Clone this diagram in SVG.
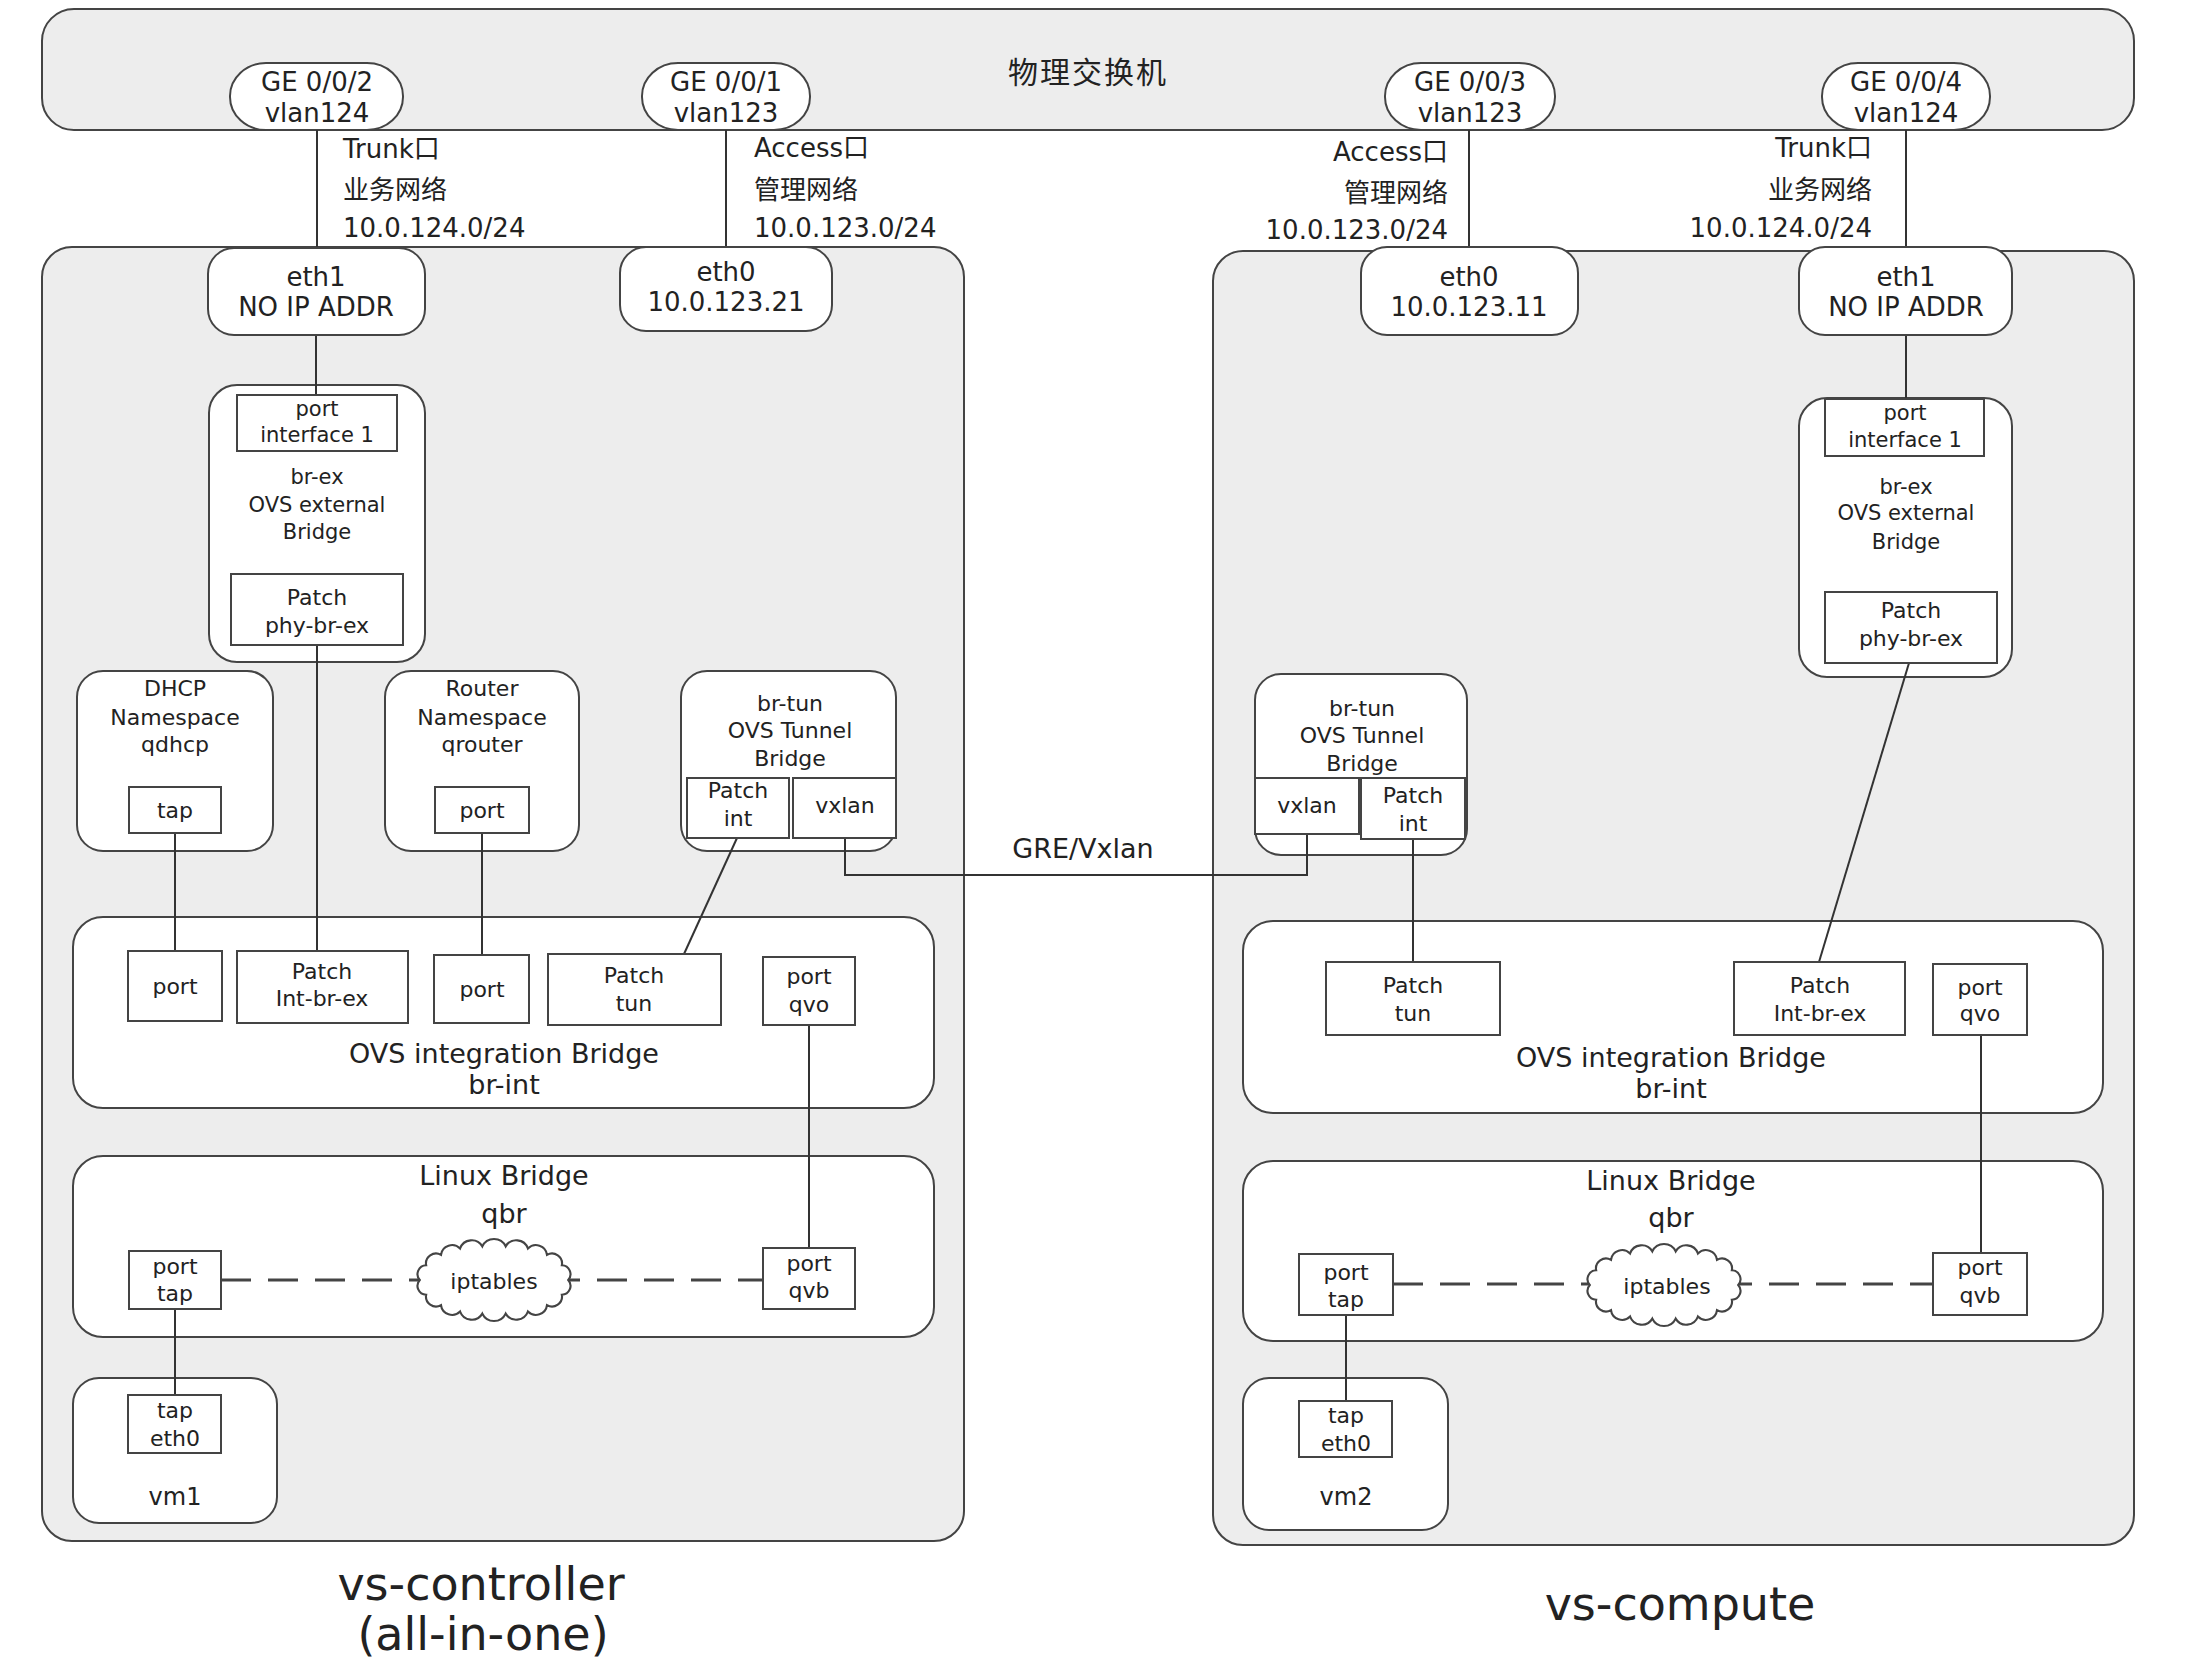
<svg xmlns="http://www.w3.org/2000/svg" width="2190" height="1664" viewBox="0 0 2190 1664">
<style>
  text { font-family: "DejaVu Sans", "Noto Sans CJK SC", sans-serif; fill: #222; }
  .c { text-anchor: middle; dominant-baseline: central; }
  .st { text-anchor: start; dominant-baseline: central; }
  .en { text-anchor: end; dominant-baseline: central; }
  .f21 { font-size: 21px; }
  .f22 { font-size: 22px; }
  .f26 { font-size: 26px; }
  .f27 { font-size: 27px; }
  .big { font-size: 46px; text-anchor: middle; }
  .gray { fill: #ededed; stroke: #444; stroke-width: 2; }
  .box { fill: #fff; stroke: #444; stroke-width: 2; }
  .ln { fill: none; stroke: #333; stroke-width: 2; }
  .dash { fill: none; stroke: #444; stroke-width: 3; stroke-dasharray: 30 17; }
</style>
<defs>
  <path id="cloud" d="M70,0 A8.4,8.4 0 0 1 64,14 A9.5,9.5 0 0 1 50,24 A10.5,10.5 0 0 1 32,30 A11.6,11.6 0 0 1 11,32 A12.1,12.1 0 0 1 -11,32 A11.6,11.6 0 0 1 -32,30 A10.5,10.5 0 0 1 -50,24 A9.5,9.5 0 0 1 -64,14 A8.4,8.4 0 0 1 -70,0 A8.4,8.4 0 0 1 -64,-14 A9.5,9.5 0 0 1 -50,-24 A10.5,10.5 0 0 1 -32,-30 A11.6,11.6 0 0 1 -11,-32 A12.1,12.1 0 0 1 11,-32 A11.6,11.6 0 0 1 32,-30 A10.5,10.5 0 0 1 50,-24 A9.5,9.5 0 0 1 64,-14 A8.4,8.4 0 0 1 70,0 Z"/>
</defs>
<rect x="0" y="0" width="2190" height="1664" fill="#fff"/>

<!-- Physical switch -->
<g id="switch">
  <rect class="gray" x="42" y="9" width="2092" height="121" rx="32" ry="32"/>
  <text class="c" x="1088" y="72" style="font-size:30px;letter-spacing:2px">物理交换机</text>
</g>

<!-- Hosts -->
<g id="host-controller">
  <rect class="gray" x="42" y="247" width="922" height="1294" rx="30" ry="30"/>
  <text class="big" x="481" y="1600">vs-controller</text>
  <text class="big" x="483" y="1650">(all-in-one)</text>
</g>
<g id="host-compute">
  <rect class="gray" x="1213" y="251" width="921" height="1294" rx="30" ry="30"/>
  <text class="big" x="1680" y="1620">vs-compute</text>
</g>

<!-- Switch ports -->
<g id="ge002"><rect class="box" x="230" y="63" width="173" height="67" rx="36" ry="33"/>
  <text class="c f26" x="317" y="82">GE 0/0/2</text><text class="c f26" x="317" y="113">vlan124</text></g>
<g id="ge001"><rect class="box" x="642" y="63" width="168" height="67" rx="36" ry="33"/>
  <text class="c f26" x="726" y="82">GE 0/0/1</text><text class="c f26" x="726" y="113">vlan123</text></g>
<g id="ge003"><rect class="box" x="1385" y="63" width="170" height="67" rx="36" ry="33"/>
  <text class="c f26" x="1470" y="82">GE 0/0/3</text><text class="c f26" x="1470" y="113">vlan123</text></g>
<g id="ge004"><rect class="box" x="1822" y="63" width="168" height="67" rx="36" ry="33"/>
  <text class="c f26" x="1906" y="82">GE 0/0/4</text><text class="c f26" x="1906" y="113">vlan124</text></g>

<!-- Controller containers -->
<g id="ctrl-br-ex"><rect class="box" x="209" y="385" width="216" height="277" rx="28" ry="28"/>
  <text class="c f21" x="317" y="477">br-ex</text><text class="c f21" x="317" y="505">OVS external</text><text class="c f21" x="317" y="532">Bridge</text></g>
<g id="ctrl-dhcp"><rect class="box" x="77" y="671" width="196" height="180" rx="26" ry="26"/>
  <text class="c f22" x="175" y="688">DHCP</text><text class="c f22" x="175" y="717">Namespace</text><text class="c f22" x="175" y="744">qdhcp</text></g>
<g id="ctrl-router"><rect class="box" x="385" y="671" width="194" height="180" rx="26" ry="26"/>
  <text class="c f22" x="482" y="688">Router</text><text class="c f22" x="482" y="717">Namespace</text><text class="c f22" x="482" y="744">qrouter</text></g>
<g id="ctrl-br-tun"><rect class="box" x="681" y="671" width="215" height="180" rx="26" ry="26"/>
  <text class="c f22" x="790" y="703">br-tun</text><text class="c f22" x="790" y="730">OVS Tunnel</text><text class="c f22" x="790" y="758">Bridge</text></g>
<g id="ctrl-br-int"><rect class="box" x="73" y="917" width="861" height="191" rx="30" ry="30"/>
  <text class="c f27" x="504" y="1053">OVS integration Bridge</text><text class="c f27" x="504" y="1084">br-int</text></g>
<g id="ctrl-qbr"><rect class="box" x="73" y="1156" width="861" height="181" rx="30" ry="30"/>
  <text class="c f27" x="504" y="1175">Linux Bridge</text><text class="c f27" x="504" y="1213">qbr</text></g>
<g id="vm1"><rect class="box" x="73" y="1378" width="204" height="145" rx="26" ry="26"/>
  <text class="c" style="font-size:24px" x="175" y="1497">vm1</text></g>

<!-- Compute containers -->
<g id="comp-br-ex"><rect class="box" x="1799" y="398" width="213" height="279" rx="28" ry="28"/>
  <text class="c f21" x="1906" y="487">br-ex</text><text class="c f21" x="1906" y="513">OVS external</text><text class="c f21" x="1906" y="542">Bridge</text></g>
<g id="comp-br-tun"><rect class="box" x="1255" y="674" width="212" height="181" rx="26" ry="26"/>
  <text class="c f22" x="1362" y="708">br-tun</text><text class="c f22" x="1362" y="735">OVS Tunnel</text><text class="c f22" x="1362" y="763">Bridge</text></g>
<g id="comp-br-int"><rect class="box" x="1243" y="921" width="860" height="192" rx="30" ry="30"/>
  <text class="c f27" x="1671" y="1057">OVS integration Bridge</text><text class="c f27" x="1671" y="1088">br-int</text></g>
<g id="comp-qbr"><rect class="box" x="1243" y="1161" width="860" height="180" rx="30" ry="30"/>
  <text class="c f27" x="1671" y="1180">Linux Bridge</text><text class="c f27" x="1671" y="1217">qbr</text></g>
<g id="vm2"><rect class="box" x="1243" y="1378" width="205" height="152" rx="26" ry="26"/>
  <text class="c" style="font-size:24px" x="1346" y="1497">vm2</text></g>

<!-- Connectors -->
<g id="connectors">
  <line class="ln" x1="317" y1="130" x2="317" y2="248"/>
  <line class="ln" x1="726" y1="130" x2="726" y2="247"/>
  <line class="ln" x1="1469" y1="130" x2="1469" y2="247"/>
  <line class="ln" x1="1906" y1="130" x2="1906" y2="247"/>
  <line class="ln" x1="316" y1="335" x2="316" y2="395"/>
  <line class="ln" x1="317" y1="645" x2="317" y2="951"/>
  <line class="ln" x1="175" y1="833" x2="175" y2="951"/>
  <line class="ln" x1="482" y1="833" x2="482" y2="955"/>
  <line class="ln" x1="737" y1="838" x2="684" y2="954"/>
  <line class="ln" x1="809" y1="1025" x2="809" y2="1248"/>
  <line class="ln" x1="175" y1="1309" x2="175" y2="1395"/>
  <line class="dash" x1="221" y1="1280" x2="763" y2="1280"/>
  <path class="ln" d="M845,838 V875 H1307 V834"/>
  <text class="c f27" x="1083" y="848">GRE/Vxlan</text>
  <line class="ln" x1="1906" y1="335" x2="1906" y2="399"/>
  <line class="ln" x1="1413" y1="839" x2="1413" y2="962"/>
  <line class="ln" x1="1909" y1="663" x2="1819" y2="962"/>
  <line class="ln" x1="1981" y1="1035" x2="1981" y2="1253"/>
  <line class="ln" x1="1346" y1="1315" x2="1346" y2="1401"/>
  <line class="dash" x1="1393" y1="1284" x2="1933" y2="1284"/>
</g>

<!-- Link labels -->
<g id="link-labels">
  <text class="st f26" x="343" y="149">Trunk口</text>
  <text class="st f26" x="343" y="190">业务网络</text>
  <text class="st f26" x="343" y="228">10.0.124.0/24</text>
  <text class="st f26" x="754" y="148">Access口</text>
  <text class="st f26" x="754" y="190">管理网络</text>
  <text class="st f26" x="754" y="228">10.0.123.0/24</text>
  <text class="en f26" x="1448" y="152">Access口</text>
  <text class="en f26" x="1448" y="193">管理网络</text>
  <text class="en f26" x="1448" y="230">10.0.123.0/24</text>
  <text class="en f26" x="1872" y="148">Trunk口</text>
  <text class="en f26" x="1872" y="190">业务网络</text>
  <text class="en f26" x="1872" y="228">10.0.124.0/24</text>
</g>

<!-- Host NICs -->
<g id="ctrl-eth1"><rect class="box" x="208" y="248" width="217" height="87" rx="26" ry="26"/>
  <text class="c f26" x="316" y="277">eth1</text><text class="c f26" x="316" y="307">NO IP ADDR</text></g>
<g id="ctrl-eth0"><rect class="box" x="620" y="247" width="212" height="84" rx="26" ry="26"/>
  <text class="c f26" x="726" y="272">eth0</text><text class="c f26" x="726" y="302">10.0.123.21</text></g>
<g id="comp-eth0"><rect class="box" x="1361" y="247" width="217" height="88" rx="26" ry="26"/>
  <text class="c f26" x="1469" y="277">eth0</text><text class="c f26" x="1469" y="307">10.0.123.11</text></g>
<g id="comp-eth1"><rect class="box" x="1799" y="247" width="213" height="88" rx="26" ry="26"/>
  <text class="c f26" x="1906" y="277">eth1</text><text class="c f26" x="1906" y="307">NO IP ADDR</text></g>

<!-- Controller ports -->
<g id="ctrl-port-if1"><rect class="box" x="237" y="395" width="160" height="56"/>
  <text class="c f21" x="317" y="409">port</text><text class="c f21" x="317" y="435">interface 1</text></g>
<g id="ctrl-phy-br-ex"><rect class="box" x="231" y="574" width="172" height="71"/>
  <text class="c f22" x="317" y="597">Patch</text><text class="c f22" x="317" y="625">phy-br-ex</text></g>
<g id="ctrl-dhcp-tap"><rect class="box" x="129" y="787" width="92" height="46"/>
  <text class="c f22" x="175" y="810">tap</text></g>
<g id="ctrl-router-port"><rect class="box" x="435" y="787" width="94" height="46"/>
  <text class="c f22" x="482" y="810">port</text></g>
<g id="ctrl-tun-patch-int"><rect class="box" x="687" y="778" width="102" height="60"/>
  <text class="c f22" x="738" y="790">Patch</text><text class="c f22" x="738" y="818">int</text></g>
<g id="ctrl-tun-vxlan"><rect class="box" x="793" y="778" width="103" height="60"/>
  <text class="c f22" x="845" y="805">vxlan</text></g>
<g id="ctrl-int-port1"><rect class="box" x="128" y="951" width="94" height="70"/>
  <text class="c f22" x="175" y="986">port</text></g>
<g id="ctrl-int-br-ex"><rect class="box" x="237" y="951" width="171" height="72"/>
  <text class="c f22" x="322" y="971">Patch</text><text class="c f22" x="322" y="998">Int-br-ex</text></g>
<g id="ctrl-int-port2"><rect class="box" x="434" y="955" width="95" height="68"/>
  <text class="c f22" x="482" y="989">port</text></g>
<g id="ctrl-int-patch-tun"><rect class="box" x="548" y="954" width="173" height="71"/>
  <text class="c f22" x="634" y="975">Patch</text><text class="c f22" x="634" y="1003">tun</text></g>
<g id="ctrl-qvo"><rect class="box" x="763" y="957" width="92" height="68"/>
  <text class="c f22" x="809" y="976">port</text><text class="c f22" x="809" y="1004">qvo</text></g>
<g id="ctrl-qbr-tap"><rect class="box" x="129" y="1251" width="92" height="58"/>
  <text class="c f22" x="175" y="1266">port</text><text class="c f22" x="175" y="1293">tap</text></g>
<g id="ctrl-qvb"><rect class="box" x="763" y="1248" width="92" height="61"/>
  <text class="c f22" x="809" y="1263">port</text><text class="c f22" x="809" y="1290">qvb</text></g>
<g id="ctrl-iptables"><use href="#cloud" class="box" transform="translate(494,1280) scale(1.06,1.05)"/>
  <text class="c f22" x="494" y="1281">iptables</text></g>
<g id="vm1-tap"><rect class="box" x="128" y="1395" width="93" height="58"/>
  <text class="c f22" x="175" y="1410">tap</text><text class="c f22" x="175" y="1438">eth0</text></g>

<!-- Compute ports -->
<g id="comp-port-if1"><rect class="box" x="1825" y="399" width="159" height="57"/>
  <text class="c f21" x="1905" y="413">port</text><text class="c f21" x="1905" y="440">interface 1</text></g>
<g id="comp-phy-br-ex"><rect class="box" x="1825" y="592" width="172" height="71"/>
  <text class="c f22" x="1911" y="610">Patch</text><text class="c f22" x="1911" y="638">phy-br-ex</text></g>
<g id="comp-tun-vxlan"><rect class="box" x="1255" y="778" width="104" height="56"/>
  <text class="c f22" x="1307" y="805">vxlan</text></g>
<g id="comp-tun-patch-int"><rect class="box" x="1361" y="778" width="104" height="61"/>
  <text class="c f22" x="1413" y="795">Patch</text><text class="c f22" x="1413" y="823">int</text></g>
<g id="comp-int-patch-tun"><rect class="box" x="1326" y="962" width="174" height="73"/>
  <text class="c f22" x="1413" y="985">Patch</text><text class="c f22" x="1413" y="1013">tun</text></g>
<g id="comp-int-br-ex"><rect class="box" x="1734" y="962" width="171" height="73"/>
  <text class="c f22" x="1820" y="985">Patch</text><text class="c f22" x="1820" y="1013">Int-br-ex</text></g>
<g id="comp-qvo"><rect class="box" x="1933" y="964" width="94" height="71"/>
  <text class="c f22" x="1980" y="987">port</text><text class="c f22" x="1980" y="1013">qvo</text></g>
<g id="comp-qbr-tap"><rect class="box" x="1299" y="1254" width="94" height="61"/>
  <text class="c f22" x="1346" y="1272">port</text><text class="c f22" x="1346" y="1299">tap</text></g>
<g id="comp-qvb"><rect class="box" x="1933" y="1253" width="94" height="62"/>
  <text class="c f22" x="1980" y="1267">port</text><text class="c f22" x="1980" y="1295">qvb</text></g>
<g id="comp-iptables"><use href="#cloud" class="box" transform="translate(1664,1285) scale(1.06,1.05)"/>
  <text class="c f22" x="1667" y="1286">iptables</text></g>
<g id="vm2-tap"><rect class="box" x="1299" y="1401" width="93" height="56"/>
  <text class="c f22" x="1346" y="1415">tap</text><text class="c f22" x="1346" y="1443">eth0</text></g>
</svg>
